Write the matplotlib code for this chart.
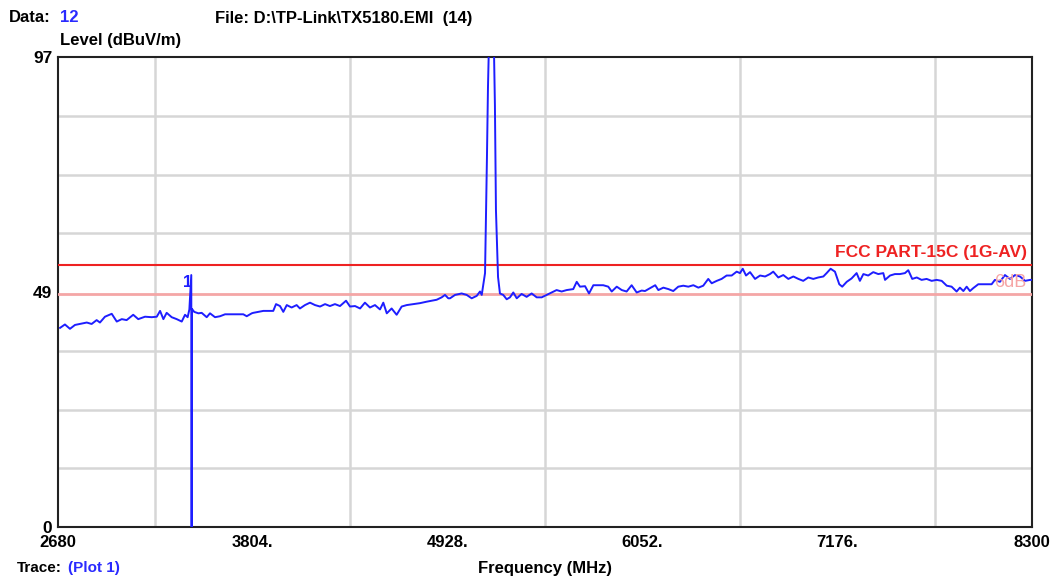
import matplotlib
matplotlib.use("Agg")
import matplotlib.pyplot as plt
import numpy as np

plt.rcParams['font.family'] = ['Liberation Sans', 'DejaVu Sans']

# trace (MHz, dBuV/m)
freq = [2692, 2720, 2749, 2778, 2846, 2874, 2903, 2922, 2951, 2990, 3019, 3048, 3076,
        3114, 3143, 3182, 3221, 3250, 3269, 3288, 3307, 3336, 3365, 3394, 3413, 3428,
        3438, 3449, 3451, 3453, 3466, 3490, 3509, 3538, 3557, 3586, 3615, 3644, 3701,
        3749, 3769, 3798, 3807, 3836, 3865, 3893, 3922, 3938, 3961, 3980, 4000, 4028,
        4057, 4076, 4105, 4134, 4163, 4192, 4221, 4249, 4278, 4307, 4342, 4365, 4394,
        4423, 4451, 4480, 4509, 4538, 4557, 4577, 4605, 4634, 4663, 4692, 4730, 4769,
        4807, 4836, 4865, 4894, 4913, 4932, 4942, 4971, 5009, 5038, 5067, 5096, 5115,
        5125, 5144, 5155, 5161, 5173, 5190, 5201, 5207, 5219, 5230, 5249, 5269, 5288,
        5307, 5327, 5355, 5384, 5413, 5442, 5471, 5500, 5529, 5557, 5586, 5615, 5653,
        5673, 5692, 5721, 5744, 5769, 5798, 5826, 5855, 5875, 5904, 5933, 5961, 5990,
        6019, 6048, 6067, 6097, 6126, 6144, 6173, 6202, 6230, 6259, 6288, 6317, 6346,
        6375, 6403, 6432, 6452, 6481, 6509, 6538, 6567, 6596, 6615, 6631, 6650, 6673,
        6702, 6731, 6760, 6788, 6807, 6836, 6865, 6894, 6923, 6952, 6980, 7009, 7038,
        7067, 7096, 7115, 7138, 7163, 7188, 7205, 7231, 7259, 7288, 7307, 7327, 7355,
        7384, 7413, 7442, 7452, 7481, 7509, 7538, 7567, 7586, 7609, 7635, 7663, 7692,
        7721, 7750, 7779, 7808, 7836, 7865, 7884, 7904, 7923, 7942, 7961, 7990, 8029,
        8067, 8086, 8115, 8144, 8173, 8202, 8231, 8260, 8289, 8300]
level = [41.1, 41.8, 40.9, 41.7, 42.2, 41.9, 42.7, 42.2, 43.4, 44.0, 42.4, 42.9, 42.7,
         43.8, 42.9, 43.4, 43.3, 43.4, 44.6, 42.9, 44.2, 43.3, 42.9, 42.4, 43.8, 43.3,
         44.9, 52.0, -10.0, 45.0, 44.4, 44.1, 44.2, 43.3, 44.1, 43.3, 43.5, 43.9, 43.9,
         43.9, 43.5, 44.1, 44.2, 44.4, 44.6, 44.6, 44.6, 46.0, 45.6, 44.4, 45.8, 45.3,
         45.8, 45.1, 45.8, 46.3, 45.8, 45.5, 46.0, 45.6, 46.0, 45.6, 46.7, 45.5, 45.6,
         45.1, 46.3, 45.3, 45.8, 44.9, 46.3, 44.1, 45.1, 43.8, 45.5, 45.8, 46.0, 46.2,
         46.5, 46.7, 46.9, 47.4, 47.9, 47.2, 47.2, 47.9, 48.2, 47.9, 47.2, 47.7, 48.6,
         47.9, 52.4, 76.2, 90.8, 110.0, 110.0, 87.1, 65.4, 51.6, 48.2, 47.9, 47.0, 47.4,
         48.4, 47.2, 48.1, 47.5, 48.2, 47.4, 47.4, 47.9, 48.4, 48.9, 48.6, 48.9, 49.1,
         50.6, 49.6, 49.7, 48.2, 49.9, 49.9, 49.9, 49.6, 48.6, 49.6, 48.9, 48.6, 49.9,
         48.4, 48.8, 48.7, 49.3, 49.9, 48.9, 49.4, 49.1, 48.7, 49.6, 49.8, 49.6, 49.9,
         49.4, 49.8, 51.2, 50.3, 50.8, 51.2, 51.9, 51.9, 52.7, 52.4, 53.3, 51.9, 52.6,
         51.2, 51.9, 51.7, 52.2, 52.7, 51.5, 52.0, 51.2, 51.7, 51.2, 50.8, 51.5, 51.2,
         51.5, 51.7, 52.4, 53.3, 52.7, 50.1, 49.6, 50.6, 51.3, 52.4, 50.8, 52.2, 51.9,
         52.6, 52.2, 52.4, 51.0, 51.9, 52.2, 52.2, 52.4, 53.0, 51.2, 51.5, 51.0, 51.2,
         50.8, 51.0, 50.8, 49.8, 49.6, 48.6, 49.4, 48.7, 49.6, 48.7, 49.3, 50.1, 50.1,
         50.1, 51.0, 50.6, 52.0, 51.2, 52.0, 51.7, 50.8, 51.0, 51.0]

limit = 54.0
margin = 48.0
xticks = [2680, 3804, 4928, 6052, 7176, 8300]
xlabels = ['2680', '3804.', '4928.', '6052.', '7176.', '8300']
yticks = [0, 48.5, 97]
ylabels = ['0', '49', '97']

fig = plt.figure(figsize=(10.51, 5.77), dpi=100)
ax = fig.add_axes([58/1051, 50/577, 974/1051, 470/577])

ax.set_xlim(2680, 8300)
ax.set_ylim(0, 97)
ax.set_xticks(np.arange(2680, 8301, 562), minor=True)
ax.set_yticks(np.linspace(0, 97, 9), minor=True)
ax.grid(True, which='minor', color='#d6d6d6', lw=1.8)
ax.set_xticks(xticks)
ax.set_xticklabels(xlabels, fontsize=12, fontweight='bold')
ax.set_yticks(yticks)
ax.set_yticklabels(ylabels, fontsize=12.5, fontweight='bold')
ax.tick_params(which='both', length=0, pad=4)
ax.tick_params(axis='x', pad=6)
for s in ax.spines.values():
    s.set_linewidth(1.5)
    s.set_color('#222222')

ax.axhline(limit, color='#ee2222', lw=1.5, zorder=3)
ax.axhline(margin, color='#f4a6a6', lw=2, zorder=3)
ax.plot(freq, level, color='#1e1eff', lw=1.4, zorder=4)

ax.text(8270, limit + 1.2, 'FCC PART-15C (1G-AV)', color='#ee2222', fontsize=12.5,
        fontweight='bold', ha='right', va='bottom', zorder=5)
ax.text(8265, margin + 0.8, '6dB', color='#f6a5a5', fontsize=13,
        ha='right', va='bottom', zorder=5)
ax.text(3452, 50.5, '1', color='#1e1eff', fontsize=12, fontweight='bold',
        ha='right', va='center', zorder=5)

fig.text(9/1051, 1 - 18/577, 'Data:', fontsize=12, fontweight='bold', va='center')
fig.text(60/1051, 1 - 18/577, '12', fontsize=12, fontweight='bold', va='center', color='#2a2aff')
fig.text(215/1051, 1 - 18/577, 'File: D:\\TP-Link\\TX5180.EMI  (14)', fontsize=12,
         fontweight='bold', va='center')
fig.text(60/1051, 1 - 40/577, 'Level (dBuV/m)', fontsize=12, fontweight='bold', va='center')
fig.text(545/1051, 1 - 568/577, 'Frequency (MHz)', fontsize=12, fontweight='bold',
         ha='center', va='center')
fig.text(17/1051, 1 - 568/577, 'Trace:', fontsize=11, fontweight='bold', va='center')
fig.text(68/1051, 1 - 568/577, '(Plot 1)', fontsize=11, fontweight='bold', va='center',
         color='#2a2aff')

fig.savefig('out.png', dpi=100)
